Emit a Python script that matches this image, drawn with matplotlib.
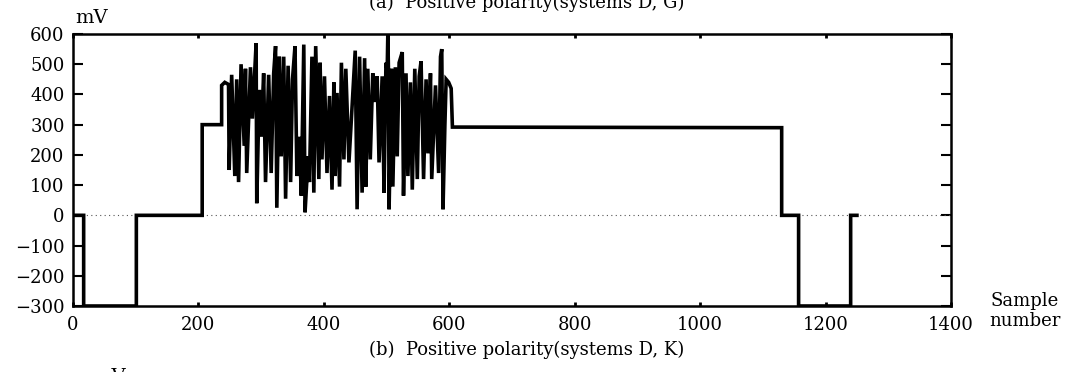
import numpy as np
import matplotlib
matplotlib.use("Agg")
import matplotlib.pyplot as plt

# step parts of the record (sample number, mV)
lead_samples = [0, 17, 17, 101, 101, 206, 206, 237, 237, 242, 248]
lead_mv = [0, 0, -300, -300, 0, 0, 300, 300, 430, 440, 433]

# burst region
burst_samples = [249, 253, 258, 261, 264, 268, 273, 275, 277, 283, 286, 290, 292,
                 293, 297, 300, 304, 307, 312, 316, 320, 323, 325, 329, 332, 336,
                 339, 343, 347, 350, 354, 357, 361, 364, 368, 370, 375, 377, 381,
                 384, 387, 392, 394, 397, 401, 405, 409, 413, 416, 418, 421, 425,
                 428, 432, 435, 440, 445, 450, 453, 457, 461, 465, 467, 470, 474,
                 478, 482, 485, 488, 493, 496, 499, 501, 502, 503, 504, 508, 510,
                 514, 517, 520, 525, 527, 531, 534, 538, 541, 545, 549, 552, 555,
                 559, 563, 566, 570, 572, 578, 583, 586, 588, 590, 593, 595, 599,
                 603]
burst_mv = [150, 465, 130, 450, 110, 500, 230, 485, 140, 490, 320, 485, 570,
            40, 415, 260, 470, 110, 465, 140, 470, 560, 25, 525, 195, 525,
            55, 495, 110, 450, 560, 130, 260, 65, 565, 10, 195, 110, 525,
            75, 560, 120, 505, 185, 460, 140, 395, 85, 440, 130, 405, 95,
            505, 185, 485, 175, 360, 545, 20, 525, 75, 520, 95, 485, 185,
            470, 375, 460, 175, 460, 75, 505, 480, 600, 480, 20, 485, 95,
            490, 195, 505, 540, 65, 470, 130, 440, 85, 485, 120, 460, 510,
            120, 450, 205, 470, 120, 430, 140, 525, 550, 20, 300, 450, 440,
            420]

tail_samples = [605, 1130, 1130, 1157, 1157, 1240, 1240, 1250]
tail_mv = [292, 290, 0, 0, -300, -300, 0, 0]

samples = lead_samples + burst_samples + tail_samples
mv = lead_mv + burst_mv + tail_mv

xticks = [0, 200, 400, 600, 800, 1000, 1200, 1400]
yticks = [-300, -200, -100, 0, 100, 200, 300, 400, 500, 600]

plt.rcParams['font.family'] = ['DejaVu Serif']

fig = plt.figure(figsize=(10.88, 3.72), dpi=100)
ax = fig.add_axes([73 / 1088, 1 - 306 / 372, (951 - 73) / 1088, (306 - 34) / 372])

ax.axhline(0, color='#555555', lw=0.8, ls=(0, (1, 3)))
ax.plot(samples, mv, color='black', lw=2.6, solid_joinstyle='miter')

ax.set_xlim(0, 1400)
ax.set_ylim(-300, 600)
ax.set_xticks(xticks)
ax.set_yticks(yticks)
ax.tick_params(axis='y', direction='in', length=7, width=1.5, right=True,
               labelsize=13, pad=6)
ax.tick_params(axis='x', direction='in', length=3, width=2, top=True,
               labelsize=13, pad=7)
for sp in ax.spines.values():
    sp.set_linewidth(1.8)

fig.text(75 / 1088, 1 - 18 / 372, 'mV', fontsize=14, va='center', ha='left')
fig.text(1025 / 1088, 1 - 311 / 372, 'Sample\nnumber', fontsize=13,
         va='center', ha='center', linespacing=1.1)
fig.text(527 / 1088, 1 - 350 / 372, '(b)  Positive polarity(systems D, K)',
         fontsize=13, va='center', ha='center')
# caption of the panel above, only its lower edge shows
fig.text(527 / 1088, 1 - 8 / 372, '(a)  Positive polarity(systems D, G)',
         fontsize=13, va='baseline', ha='center')
fig.text(93 / 1088, 1 - 368 / 372, 'mV', fontsize=14, va='top', ha='left')

plt.savefig('out.png', dpi=100)
